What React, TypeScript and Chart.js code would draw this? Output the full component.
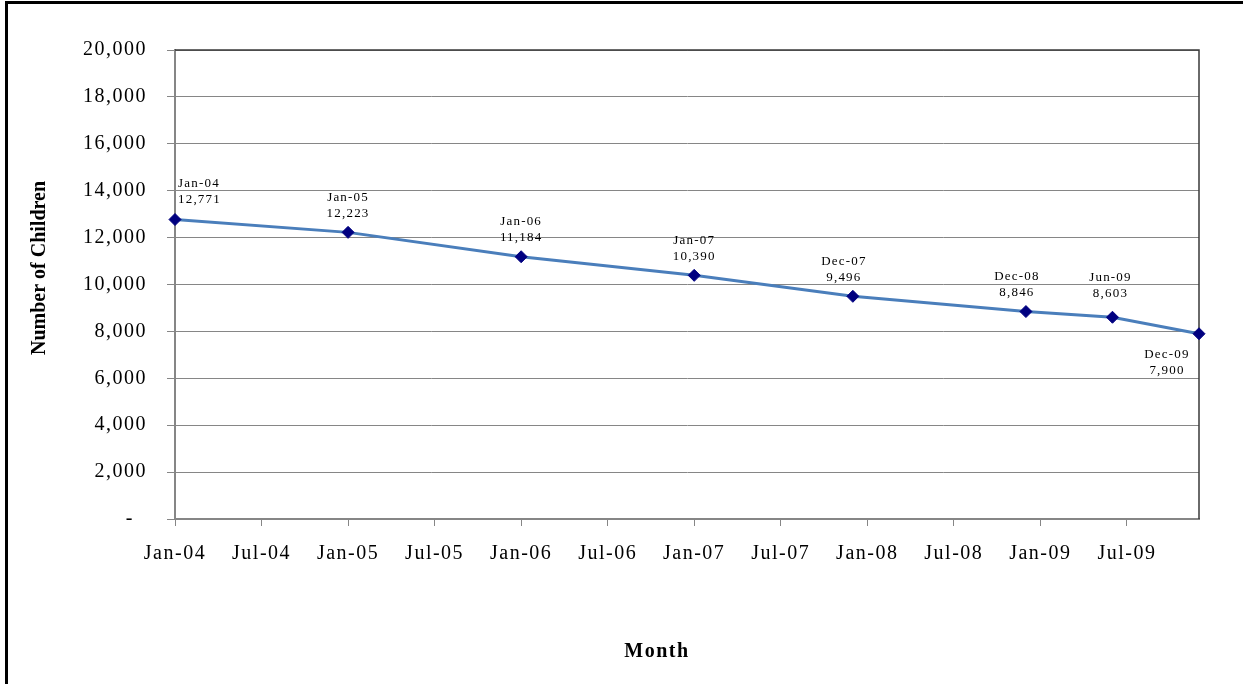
import React, { useEffect, useRef } from 'react';
import { Chart, registerables } from 'chart.js';

Chart.register(...registerables);

// ---- data ----
const pointLabels = ['Jan-04', 'Jan-05', 'Jan-06', 'Jan-07', 'Dec-07', 'Dec-08', 'Jun-09', 'Dec-09'];
const monthIndex = [0, 12, 24, 36, 47, 59, 65, 71]; // months since Jan-04
const children = [12771, 12223, 11184, 10390, 9496, 8846, 8603, 7900];
const xTickLabels = ['Jan-04', 'Jul-04', 'Jan-05', 'Jul-05', 'Jan-06', 'Jul-06', 'Jan-07', 'Jul-07', 'Jan-08', 'Jul-08', 'Jan-09', 'Jul-09'];
const xTickStep = 6;
const yMin = 0;
const yMax = 20000;
const yStep = 2000;
const yTitle = 'Number of Children';
const xTitle = 'Month';

const FONT = '"Liberation Serif", "Times New Roman", serif';
const fmt = (v: number) => v.toLocaleString('en-US');

// label placement tweaks (style only, keyed by point position)
const labelShift: Record<number, [number, number]> = { 4: [-9, 0], 5: [-9, 0], 6: [-2, -5] };

const customPlugin = {
  id: 'customDraw',
  beforeDraw(chart: any) {
    chart.ctx.letterSpacing = '1.5px';
  },
  beforeDatasetsDraw(chart: any) {
    const { ctx, chartArea: ca } = chart;
    ctx.save();
    ctx.strokeStyle = '#3a3a3a';
    ctx.lineWidth = 1.5;
    ctx.beginPath();
    ctx.moveTo(ca.left, ca.top);
    ctx.lineTo(ca.right, ca.top);
    ctx.lineTo(ca.right, ca.bottom);
    ctx.stroke();
    ctx.restore();
  },
  afterDatasetsDraw(chart: any) {
    const { ctx } = chart;
    const meta = chart.getDatasetMeta(0);
    ctx.save();
    ctx.letterSpacing = '1.2px';
    ctx.font = `13px ${FONT}`;
    ctx.fillStyle = '#000';
    ctx.textBaseline = 'middle';
    const n = meta.data.length;
    meta.data.forEach((pt: any, i: number) => {
      const x = pt.x;
      const y = pt.y;
      const date = pointLabels[i];
      const val = fmt(children[i]);
      if (i === 0) {
        ctx.textAlign = 'left';
        ctx.fillText(date, x + 3, y - 36);
        ctx.fillText(val, x + 3, y - 20);
      } else if (i === n - 1) {
        ctx.textAlign = 'center';
        ctx.fillText(date, x - 32, y + 21);
        ctx.fillText(val, x - 32, y + 37);
      } else {
        const [dx, dy] = labelShift[i] ?? [0, 0];
        ctx.textAlign = 'center';
        ctx.fillText(date, x + dx, y - 35 + dy);
        ctx.fillText(val, x + dx, y - 19 + dy);
      }
    });
    ctx.restore();
  },
  afterDraw(chart: any) {
    const { ctx } = chart;
    ctx.save();
    ctx.fillStyle = '#000';
    ctx.font = `bold 20px ${FONT}`;
    ctx.textAlign = 'center';
    ctx.textBaseline = 'middle';
    ctx.letterSpacing = '1.5px';
    ctx.fillText(xTitle, 657, 652);
    ctx.letterSpacing = '0px';
    ctx.translate(40, 268);
    ctx.rotate(-Math.PI / 2);
    ctx.fillText(yTitle, 0, 0);
    ctx.restore();
  },
};

export default function App() {
  const canvasRef = useRef<HTMLCanvasElement | null>(null);

  useEffect(() => {
    if (!canvasRef.current) return;
    const chart = new Chart(canvasRef.current, {
      type: 'line',
      data: {
        datasets: [
          {
            label: yTitle,
            data: monthIndex.map((m, i) => ({ x: m, y: children[i] })),
            borderColor: '#4A7EBB',
            borderWidth: 3,
            pointStyle: 'rectRot',
            pointRadius: 6,
            pointHoverRadius: 6,
            pointBackgroundColor: '#000080',
            pointBorderColor: '#000080',
            pointBorderWidth: 1,
            tension: 0,
            clip: false as any,
          },
        ],
      },
      options: {
        responsive: false,
        animation: false,
        devicePixelRatio: 1,
        layout: { padding: { top: 50, right: 44, bottom: 0, left: 0 } },
        plugins: {
          legend: { display: false },
          tooltip: { enabled: false },
          title: { display: false },
        },
        scales: {
          x: {
            type: 'linear',
            min: monthIndex[0],
            max: monthIndex[monthIndex.length - 1],
            afterFit: (s: any) => {
              s.height = 165;
            },
            ticks: {
              stepSize: xTickStep,
              includeBounds: false,
              autoSkip: false,
              maxRotation: 0,
              padding: 16,
              color: '#000',
              font: { family: FONT, size: 20 },
              callback: (v: any) => xTickLabels[Math.round(Number(v) / xTickStep)] ?? '',
            },
            grid: {
              drawOnChartArea: false,
              drawTicks: true,
              tickLength: 7,
              color: '#868686',
              lineWidth: 1,
            },
            border: { display: true, color: '#868686', width: 2 },
          },
          y: {
            min: yMin,
            max: yMax,
            afterFit: (s: any) => {
              s.width = 175;
            },
            ticks: {
              stepSize: yStep,
              padding: 20,
              color: '#000',
              font: { family: FONT, size: 20 },
              callback: (v: any) => (Number(v) === 0 ? '-  ' : fmt(Number(v))),
            },
            grid: {
              drawOnChartArea: true,
              drawTicks: true,
              tickLength: 8,
              color: '#868686',
              lineWidth: 1,
            },
            border: { display: true, color: '#868686', width: 2 },
          },
        },
      },
      plugins: [customPlugin],
    });
    return () => chart.destroy();
  }, []);

  return (
    <div
      style={{
        position: 'fixed',
        left: 0,
        top: 0,
        width: 1243,
        height: 684,
        overflow: 'hidden',
        background: '#fff',
      }}
    >
      <canvas ref={canvasRef} width={1243} height={684} style={{ display: 'block', width: 1243, height: 684 }} />
      <div
        style={{
          position: 'absolute',
          left: 5,
          top: 1,
          width: 1300,
          height: 800,
          border: '3px solid #000',
          boxSizing: 'border-box',
          pointerEvents: 'none',
        }}
      />
    </div>
  );
}
